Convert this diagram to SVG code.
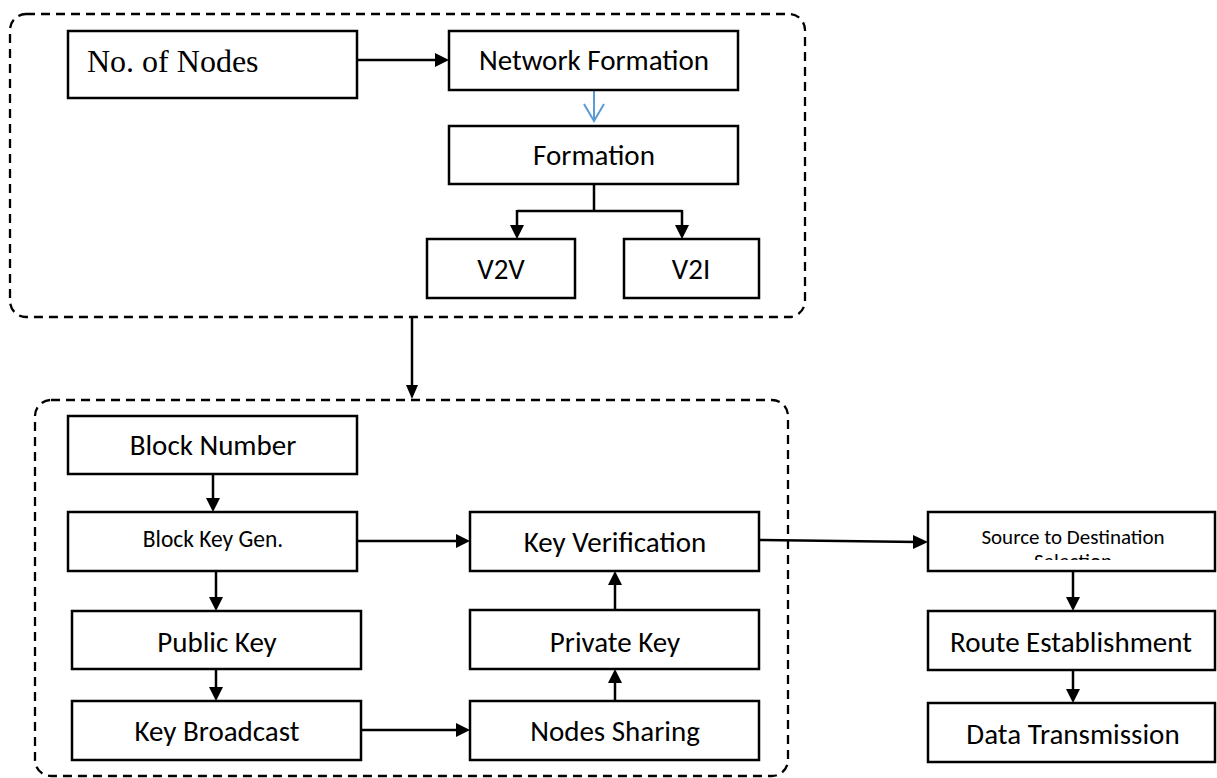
<svg xmlns="http://www.w3.org/2000/svg" width="1217" height="778" viewBox="0 0 1217 778">
<style>
.box{fill:#fff;stroke:#000;stroke-width:2.5}
.grp{fill:none;stroke:#000;stroke-width:2.3;stroke-dasharray:9 6}
.t{font-family:Carlito,Lato,"Liberation Sans",sans-serif;font-size:29px;fill:#000;text-anchor:middle}
.s{font-size:21px}
.ser{font-family:"Liberation Serif",serif;font-size:32px;fill:#000}
.c{fill:none;stroke:#000;stroke-width:2.5}
</style>
<defs>
<clipPath id="clipSrc"><rect x="929" y="513" width="287" height="47"/></clipPath>
</defs>
<g id="groups">
<rect class="grp" x="10" y="14" width="795" height="303" rx="16"/>
<rect class="grp" x="35" y="400" width="753" height="376" rx="16"/>
</g>
<g id="connectors">
<path class="c" d="M357,60 H440"/><path d="M435,53 L449,60 L435,67 z"/>
<path d="M594,90 V121" fill="none" stroke="#5B9BD5" stroke-width="2"/>
<path d="M584,104 L594,121 L604,104" fill="none" stroke="#5B9BD5" stroke-width="2"/>
<path class="c" d="M594,184 V211 M517,211 H682 M517,210 V228 M682,210 V228"/>
<path d="M510,225 L517,239 L524,225 z M675,225 L682,239 L689,225 z"/>
<path class="c" d="M412,317 V388"/><path d="M406,385 L412,399 L418,385 z"/>
<path class="c" d="M213,474 V500"/><path d="M206,498 L213,512 L220,498 z"/>
<path class="c" d="M216,571 V600"/><path d="M209,597 L216,611 L223,597 z"/>
<path class="c" d="M216,669 V690"/><path d="M209,687 L216,701 L223,687 z"/>
<path class="c" d="M357,541 H460"/><path d="M456,534 L470,541 L456,548 z"/>
<path class="c" d="M361,730 H460"/><path d="M456,723 L470,730 L456,737 z"/>
<path class="c" d="M615,701 V680"/><path d="M608,683 L615,669 L622,683 z"/>
<path class="c" d="M615,610 V582"/><path d="M608,585 L615,571 L622,585 z"/>
<path class="c" d="M759,540 L918,542"/><path d="M913,535 L928,542 L913,549 z"/>
<path class="c" d="M1073,571 V600"/><path d="M1066,597 L1073,611 L1080,597 z"/>
<path class="c" d="M1073,670 V692"/><path d="M1066,689 L1073,703 L1080,689 z"/>
</g>
<g id="nodes">
<g id="n-nodes"><rect class="box" x="68" y="31" width="289" height="67"/><text class="ser" x="87" y="72">No. of Nodes</text></g>
<g id="n-netform"><rect class="box" x="449" y="31" width="289" height="59"/><text class="t" x="594" y="70">Network Formation</text></g>
<g id="n-form"><rect class="box" x="449" y="126" width="289" height="58"/><text class="t" x="594" y="165">Formation</text></g>
<g id="n-v2v"><rect class="box" x="427" y="239" width="148" height="59"/><text class="t" x="501" y="279">V2V</text></g>
<g id="n-v2i"><rect class="box" x="624" y="239" width="135" height="59"/><text class="t" x="691" y="279">V2I</text></g>
<g id="n-blocknum"><rect class="box" x="68" y="416" width="289" height="58"/><text class="t" x="213" y="455">Block Number</text></g>
<g id="n-blockkey"><rect class="box" x="68" y="512" width="289" height="59"/><text class="t" x="213" y="547" style="font-size:23.5px">Block Key Gen.</text></g>
<g id="n-public"><rect class="box" x="72" y="611" width="289" height="58"/><text class="t" x="217" y="652">Public Key</text></g>
<g id="n-broadcast"><rect class="box" x="72" y="701" width="289" height="59"/><text class="t" x="217" y="741">Key Broadcast</text></g>
<g id="n-verify"><rect class="box" x="470" y="512" width="289" height="59"/><text class="t" x="615" y="552">Key Verification</text></g>
<g id="n-private"><rect class="box" x="470" y="610" width="289" height="59"/><text class="t" x="615" y="652">Private Key</text></g>
<g id="n-sharing"><rect class="box" x="470" y="701" width="289" height="59"/><text class="t" x="615" y="741">Nodes Sharing</text></g>
<g id="n-source"><rect class="box" x="928" y="512" width="287" height="59"/><g clip-path="url(#clipSrc)"><text class="t s" x="1073" y="544">Source to Destination</text><text class="t s" x="1073" y="568">Selection</text></g></g>
<g id="n-route"><rect class="box" x="928" y="611" width="287" height="59"/><text class="t" x="1071" y="652">Route Establishment</text></g>
<g id="n-data"><rect class="box" x="928" y="703" width="287" height="59"/><text class="t" x="1073" y="744">Data Transmission</text></g>
</g>
</svg>
